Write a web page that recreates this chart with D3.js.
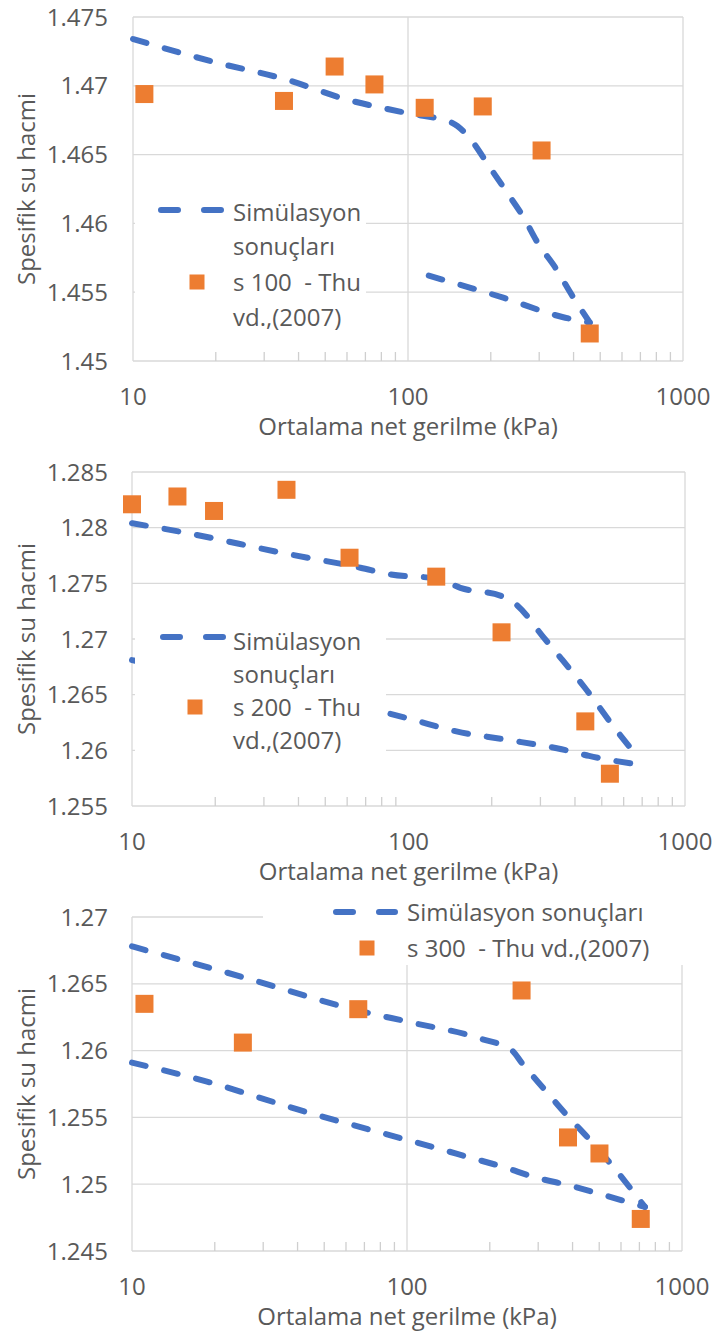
<!DOCTYPE html>
<html>
<head>
<meta charset="utf-8">
<script src="https://cdn.jsdelivr.net/npm/d3@7"></script>
<style>
  body { margin: 0; background: #fff; }
  svg { display: block; font-family: "Open Sans", "DejaVu Sans", sans-serif; }
  text { fill: #595959; white-space: pre; }
</style>
</head>
<body>
<svg width="718" height="1334"></svg>
<script>
// x axis ticks (log scale, shared)
const xMajor = [10, 100, 1000];
const xMinor = [20, 30, 40, 50, 60, 70, 80, 90, 200, 300, 400, 500, 600, 700, 800, 900];

// panel 1 : s 100
const yTicks1 = [1.45, 1.455, 1.46, 1.465, 1.47, 1.475];
const expX1 = [11.0, 35.4, 54.1, 75.5, 115, 187, 306, 458];
const expY1 = [1.4694, 1.4689, 1.4714, 1.4701, 1.4684, 1.4685, 1.4653, 1.4520];
const loadX1 = [10, 20, 35.4, 60, 100, 145, 169, 198, 230, 264, 296, 343, 394, 458];
const loadY1 = [1.4734, 1.4717, 1.4705, 1.4690, 1.4680, 1.4673, 1.4661, 1.4641, 1.4622, 1.4604, 1.4586, 1.4568, 1.4548, 1.4528];
const unloadX1 = [119, 222, 364, 458];
const unloadY1 = [1.4562, 1.4546, 1.4532, 1.4528];

// panel 2 : s 200
const yTicks2 = [1.255, 1.26, 1.265, 1.27, 1.275, 1.28, 1.285];
const expX2 = [10, 14.6, 19.8, 36.2, 61.2, 126, 217, 436, 535];
const expY2 = [1.2821, 1.2828, 1.2815, 1.2834, 1.2773, 1.2756, 1.2706, 1.2626, 1.2579];
const loadX2 = [10, 15.2, 35.5, 67, 86, 128, 154, 220, 245, 309, 358, 435, 565, 686];
const loadY2 = [1.2804, 1.2796, 1.2777, 1.2764, 1.2758, 1.2754, 1.2746, 1.2738, 1.2731, 1.2701, 1.2682, 1.2656, 1.2618, 1.2592];
const unloadX2 = [10, 30, 82, 102, 149, 220, 358, 450, 686];
const unloadY2 = [1.2681, 1.2657, 1.2634, 1.2628, 1.2617, 1.2610, 1.2601, 1.2595, 1.2587];

// panel 3 : s 300
const yTicks3 = [1.245, 1.25, 1.255, 1.26, 1.265, 1.27];
const expX3 = [11.1, 25.3, 66.5, 261, 385, 501, 708];
const expY3 = [1.2635, 1.2606, 1.2631, 1.2645, 1.2535, 1.2523, 1.2474];
const loadX3 = [10, 25.3, 66.5, 104, 185, 241, 261, 316, 380, 463, 562, 733];
const loadY3 = [1.2678, 1.2655, 1.2630, 1.2621, 1.2609, 1.2600, 1.2591, 1.2571, 1.2552, 1.2533, 1.2513, 1.2483];
const unloadX3 = [10, 18.6, 40, 96.6, 128.5, 169, 223, 294, 391, 537, 733];
const unloadY3 = [1.2591, 1.2577, 1.2556, 1.2534, 1.2527, 1.2520, 1.2513, 1.2505, 1.2499, 1.2491, 1.2483];

const simLabel = ["Simülasyon", "sonuçları"];
const xTitle = "Ortalama net gerilme (kPa)";
const yTitle = "Spesifik su hacmi";

const blue = "#4472C4", orange = "#ED7D31", grid = "#d9d9d9";
const svg = d3.select("svg");
svg.append("rect").attr("width", 718).attr("height", 1334).attr("fill", "#fff");

const zip = (xs, ys) => xs.map((x, i) => ({x, y: ys[i]}));

const panels = [
  {box: {left: 133, right: 683, top: 17, bottom: 361}, yTicks: yTicks1, vGrid: [10, 100, 1000],
   exp: zip(expX1, expY1), load: zip(loadX1, loadY1), unload: zip(unloadX1, unloadY1),
   legend: {rect: [135, 190, 231, 145], line: [158, 224, 210], tx: 233, rows: [212, 246, 282, 317], sq: [197, 282],
            text: [...simLabel, "s 100  - Thu", "vd.,(2007)"]}},
  {box: {left: 132, right: 685, top: 472, bottom: 806}, yTicks: yTicks2, vGrid: [10, 1000],
   exp: zip(expX2, expY2), load: zip(loadX2, loadY2), unload: zip(unloadX2, unloadY2),
   legend: {rect: [135, 610, 251, 155], line: [160, 226, 637], tx: 233, rows: [641, 674, 707, 740], sq: [195, 707],
            text: [...simLabel, "s 200  - Thu", "vd.,(2007)"]}},
  {box: {left: 132, right: 682, top: 917, bottom: 1251}, yTicks: yTicks3, vGrid: [10, 100, 1000],
   exp: zip(expX3, expY3), load: zip(loadX3, loadY3), unload: zip(unloadX3, unloadY3),
   legend: {rect: [263, 888, 445, 77], line: [333, 398, 912], tx: 407, rows: [912, 948], sq: [367, 948],
            text: [simLabel.join(" "), "s 300  - Thu vd.,(2007)"]}}
];

const fmt = (d) => String(+d.toFixed(3));

panels.forEach((p) => {
  const b = p.box;
  const x = d3.scaleLog().domain([10, 1000]).range([b.left, b.right]);
  const y = d3.scaleLinear().domain(d3.extent(p.yTicks)).range([b.bottom, b.top]);
  const g = svg.append("g");

  // gridlines
  g.selectAll(".hg").data(p.yTicks).join("line")
    .attr("x1", b.left).attr("x2", b.right)
    .attr("y1", (d) => y(d)).attr("y2", (d) => y(d))
    .attr("stroke", grid).attr("stroke-width", 1.3);
  g.selectAll(".vg").data(p.vGrid).join("line")
    .attr("x1", (d) => x(d)).attr("x2", (d) => x(d))
    .attr("y1", b.top).attr("y2", b.bottom)
    .attr("stroke", grid).attr("stroke-width", 1.3);

  // minor ticks on x axis
  g.selectAll(".mt").data(xMinor).join("line")
    .attr("x1", (d) => x(d)).attr("x2", (d) => x(d))
    .attr("y1", b.bottom - 9).attr("y2", b.bottom)
    .attr("stroke", "#cfcfcf").attr("stroke-width", 1.3);

  // tick labels
  g.selectAll(".yl").data(p.yTicks).join("text")
    .attr("x", 108).attr("y", (d) => y(d)).attr("dy", "0.36em")
    .attr("text-anchor", "end").attr("font-size", 24).text(fmt);
  g.selectAll(".xl").data(xMajor).join("text")
    .attr("x", (d) => x(d)).attr("y", b.bottom + 44)
    .attr("text-anchor", "middle").attr("font-size", 24).text((d) => d);

  // titles
  g.append("text").attr("x", (b.left + b.right) / 2).attr("y", b.bottom + 74)
    .attr("text-anchor", "middle").attr("font-size", 24).text(xTitle);
  g.append("text").attr("transform", `translate(35,${(b.top + b.bottom) / 2}) rotate(-90)`)
    .attr("text-anchor", "middle").attr("font-size", 24).text(yTitle);

  // simulation lines
  const line = d3.line().x((d) => x(d.x)).y((d) => y(d.y)).curve(d3.curveMonotoneX);
  [p.load, p.unload].forEach((s) => {
    g.append("path").datum(s).attr("d", line)
      .attr("fill", "none").attr("stroke", blue).attr("stroke-width", 6)
      .attr("stroke-linecap", "round").attr("stroke-dasharray", "14,19");
  });

  // experimental points
  g.selectAll(".pt").data(p.exp).join("rect")
    .attr("x", (d) => x(d.x) - 9).attr("y", (d) => y(d.y) - 9)
    .attr("width", 18).attr("height", 18).attr("fill", orange);

  // legend
  const L = p.legend;
  g.append("rect").attr("x", L.rect[0]).attr("y", L.rect[1])
    .attr("width", L.rect[2]).attr("height", L.rect[3]).attr("fill", "#fff");
  g.append("line").attr("x1", L.line[0] + 3).attr("x2", L.line[1] - 3)
    .attr("y1", L.line[2]).attr("y2", L.line[2])
    .attr("stroke", blue).attr("stroke-width", 6).attr("stroke-linecap", "round")
    .attr("stroke-dasharray", "17,26");
  g.append("rect").attr("x", L.sq[0] - 7.5).attr("y", L.sq[1] - 7.5)
    .attr("width", 15).attr("height", 15).attr("fill", orange);
  g.selectAll(".lt").data(L.text).join("text")
    .attr("x", L.tx).attr("y", (d, i) => L.rows[i]).attr("dy", "0.36em")
    .attr("font-size", 24).text((d) => d);
});
</script>
</body>
</html>
